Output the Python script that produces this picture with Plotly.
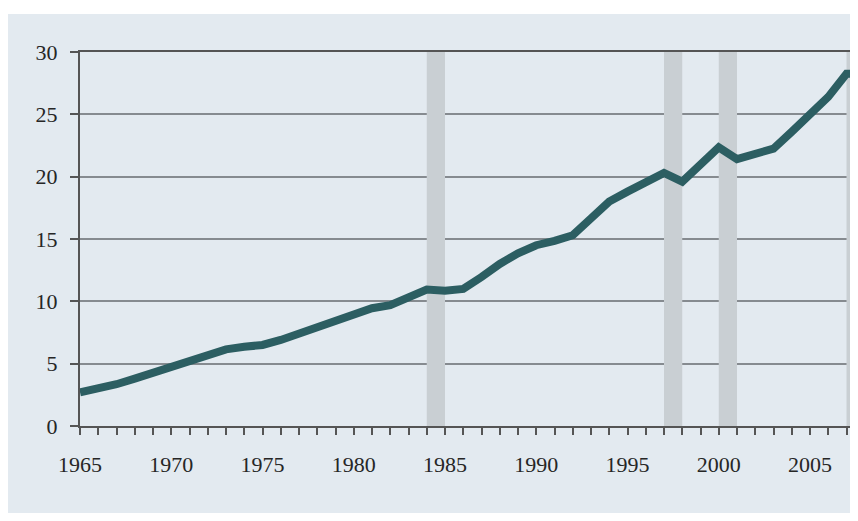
import plotly.graph_objects as go

years = list(range(1965, 2009))
values = [2.7, 3.0, 3.35, 3.8, 4.25, 4.65, 5.15, 5.7, 6.15, 6.35,
          6.5, 6.9, 7.4, 7.95, 8.55, 9.05, 9.45, 9.7, 10.3, 10.95,
          10.85, 11.0, 11.95, 13.0, 13.85, 14.5, 14.85, 15.3, 16.65, 18.0,
          18.8, 19.5, 20.3, 19.6, 20.9, 22.35, 21.4, 21.85, 22.25, 23.6,
          24.95, 26.4, 28.25, 28.25]

band_starts = [1984, 1997, 2000, 2007]
band_ends = [1985, 1998, 2001, 2008]

x_tickvals = [1965, 1970, 1975, 1980, 1985, 1990, 1995, 2000, 2005]
y_tickvals = [0, 5, 10, 15, 20, 25, 30]

# page body has an 8px margin, so the figure is laid out smaller
W, H = 850, 505
ML, MR, MT, MB = 72, 0, 44, 87
pw, ph = W - ML - MR, H - MT - MB

fig = go.Figure()
fig.add_trace(go.Scatter(
    x=years, y=values, mode="lines",
    line=dict(color="#2c5e62", width=8),
    hoverinfo="skip", showlegend=False,
))

shapes = [dict(
    type="rect", xref="paper", yref="paper",
    x0=(0 - ML) / pw, x1=1.0,
    y0=(MT + ph - H) / ph, y1=(MT + ph - 6) / ph,
    fillcolor="#e3eaf0", line=dict(width=0), layer="below",
)]
for s, e in zip(band_starts, band_ends):
    shapes.append(dict(
        type="rect", xref="x", yref="y", x0=s, x1=e, y0=0, y1=30,
        fillcolor="#c9cfd3", line=dict(width=0), layer="between",
    ))

font = dict(family="Liberation Serif", size=22, color="#262626")

fig.update_layout(
    width=W, height=H,
    margin=dict(l=ML, r=MR, t=MT, b=MB, autoexpand=False),
    paper_bgcolor="white",
    plot_bgcolor="rgba(0,0,0,0)",
    shapes=shapes,
    font=font,
    xaxis=dict(
        range=[1965, 1965 + pw / 18.25],
        tickvals=x_tickvals,
        ticktext=[str(v) for v in x_tickvals],
        ticks="outside", ticklen=7, tickwidth=1.5, tickcolor="#555555",
        minor=dict(dtick=1, tick0=1965, ticks="outside", ticklen=7,
                   tickwidth=1.5, tickcolor="#555555"),
        ticklabelstandoff=11,
        showgrid=False, zeroline=False,
        showline=True, linecolor="#555555", linewidth=2, mirror=True,
        tickfont=font,
    ),
    yaxis=dict(
        range=[0, 30],
        tickvals=y_tickvals,
        ticktext=[str(v) for v in y_tickvals],
        ticks="outside", ticklen=8, tickwidth=1.5, tickcolor="#555555",
        ticklabelstandoff=8,
        showgrid=True, gridcolor="#868b90", gridwidth=1.5,
        zeroline=False,
        showline=True, linecolor="#555555", linewidth=2,
        tickfont=font,
    ),
)

fig.write_html("out.html")
